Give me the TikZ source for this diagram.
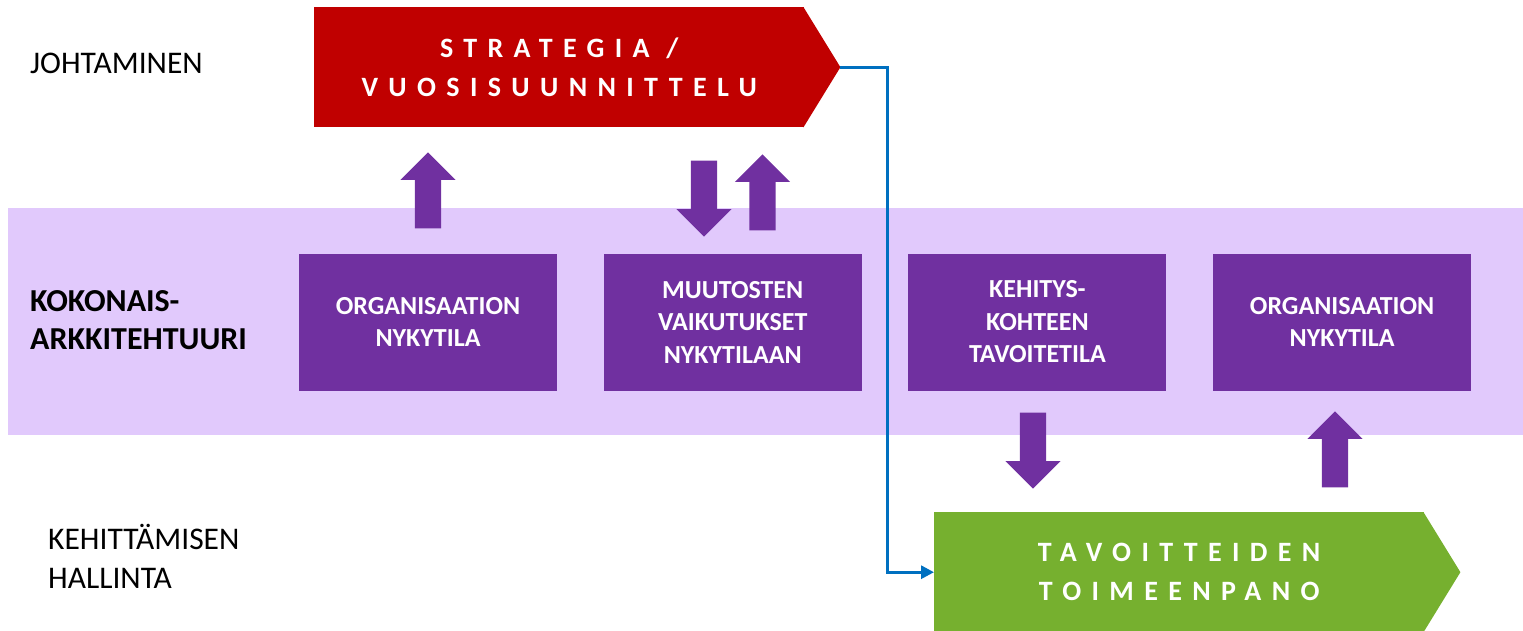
\documentclass[tikz,border=0pt]{standalone}
\usepackage{fontspec}
\setmainfont{Carlito}
\usetikzlibrary{shapes.arrows,arrows.meta}
\definecolor{strategyred}{HTML}{C00000}
\definecolor{deliverygreen}{HTML}{76B02F}
\definecolor{eapurple}{HTML}{7030A0}
\definecolor{eaband}{HTML}{E1C9FC}
\definecolor{flowblue}{HTML}{0070C0}
\tikzstyle{box}=[rectangle,minimum width=258pt,minimum height=137pt,inner sep=0pt,text centered,align=center,fill=eapurple,text=white,font=\fontsize{26}{32.5}\selectfont\bfseries]
\tikzstyle{phase}=[rectangle,minimum width=490pt,minimum height=120pt,inner sep=0pt,anchor=north west,align=center,text=white,font=\fontsize{28}{39}\selectfont\bfseries\addfontfeature{LetterSpace=37}]
\tikzstyle{lane}=[anchor=west,align=left,inner sep=0pt,font=\fontsize{31.5}{39}\selectfont]
\tikzstyle{uparrow}=[single arrow,shape border rotate=90,fill=eapurple,minimum height=76pt,inner xsep=13pt,inner ysep=0pt,single arrow head extend=14.5pt,anchor=tip]
\tikzstyle{downarrow}=[uparrow,shape border rotate=270]
\begin{document}
\begin{tikzpicture}[x=1pt,y=-1pt,node distance=304.7pt]
\useasboundingbox (0,0) rectangle (1523,630);
% kokonaisarkkitehtuurin kaista
\node(band)[fill=eaband,minimum width=1515pt,minimum height=227pt,inner sep=0pt,anchor=north west] at (8,208){};
% vaiheet
\node(strategia)[phase,fill=strategyred] at (314,7){STRATEGIA /\\VUOSISUUNNITTELU};
\coordinate(strategiatip) at ([xshift=36pt]strategia.east);
\fill[strategyred]([xshift=-1pt]strategia.north east)--(strategiatip)--([xshift=-1pt]strategia.south east)--cycle;
\node(toimeenpano)[phase,fill=deliverygreen] at (934,512){TAVOITTEIDEN\\TOIMEENPANO};
\coordinate(toimeenpanotip) at ([xshift=36pt]toimeenpano.east);
\fill[deliverygreen]([xshift=-1pt]toimeenpano.north east)--(toimeenpanotip)--([xshift=-1pt]toimeenpano.south east)--cycle;
% tasot
\node(johtaminen)[lane] at (30,63){JOHTAMINEN};
\node(kokonais)[lane,font=\fontsize{32}{38}\selectfont\bfseries] at (30,320){KOKONAIS-\\ARKKITEHTUURI};
\node(kehittaminen)[lane] at (48,556){KEHITTÄMISEN\\HALLINTA};
% laatikot
\node(nykytila)[box] at (428,322){ORGANISAATION\\NYKYTILA};
\node(muutokset)[box,right of=nykytila]{MUUTOSTEN\\VAIKUTUKSET\\NYKYTILAAN};
\node(tavoitetila)[box,right of=muutokset]{KEHITYS-\\KOHTEEN\\TAVOITETILA};
\node(uusinykytila)[box,right of=tavoitetila]{ORGANISAATION\\NYKYTILA};
% nuolet (kärjen kohdalta)
\node(nosto)[uparrow] at (428,152){};
\node(vaikutus)[downarrow] at (704,237){};
\node(palaute)[uparrow] at (762.5,154){};
\node(toteutus)[downarrow] at (1033,489){};
\node(paivitys)[uparrow] at (1335,411){};
\draw[flowblue,line width=3pt,-{Triangle[length=13pt,width=13pt]}](strategiatip)--++(47,0)|-(toimeenpano.west);
\end{tikzpicture}
\end{document}
